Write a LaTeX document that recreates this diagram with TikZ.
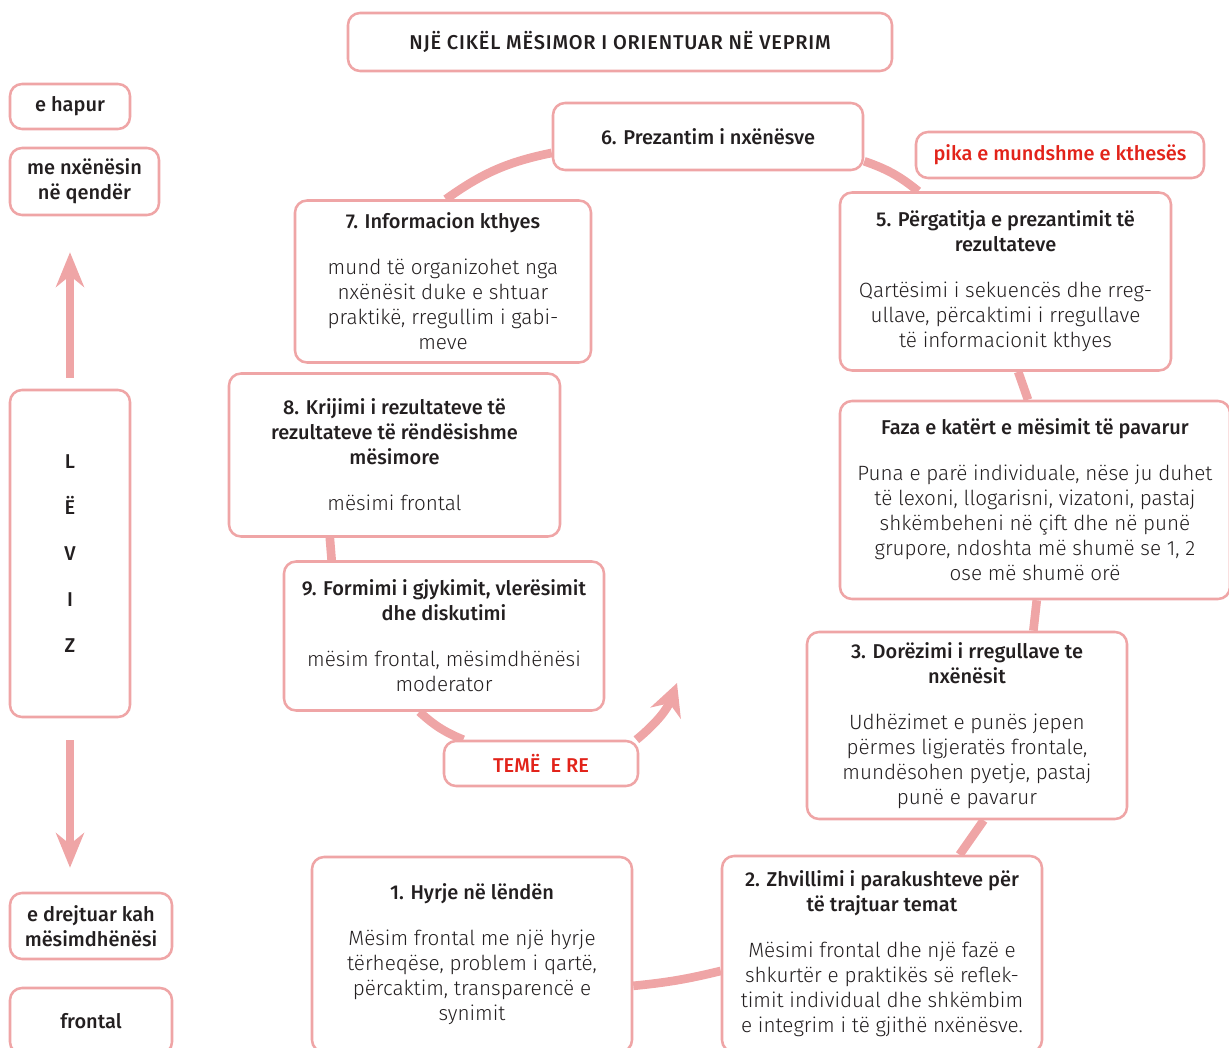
\documentclass[tikz,border=0pt]{standalone}
\usepackage{fontspec}
\setmainfont{Fira Sans}[UprightFont=* Light, BoldFont=* Medium]
\usetikzlibrary{arrows.meta}
\usetikzlibrary{backgrounds}
\definecolor{rose}{HTML}{EFA5A6}
\definecolor{ink}{HTML}{231F20}
\definecolor{signal}{HTML}{E2231A}
\newcommand{\gap}{\\[15.75pt]}
\newcommand{\head}[1]{{\fontsize{15}{18.75}\selectfont\bfseries #1}}

\begin{document}
\begin{tikzpicture}[x=0.75pt, y=-0.75pt,
  box/.style={draw=rose, line width=1.9pt, rounded corners=9pt, fill=white, align=center,
    inner sep=0pt, text=ink, font=\fontsize{15.5}{18.75}\selectfont},
  hot/.style={box, text=signal},
  ring/.style={draw=rose, line width=6.5pt},
  lead/.style={draw=rose, line width=6pt, -{Stealth[length=26pt, width=21pt]}}]
\useasboundingbox (0,0) rectangle (1229,1048);
% title
\node[box, minimum width=408pt, minimum height=43.5pt] (title) at (620,42) {\head{\addfontfeatures{LetterSpace=4}NJË CIKËL MËSIMOR I ORIENTUAR NË VEPRIM}};
% left column
\node[box, minimum width=90pt, minimum height=33.75pt] (open) at (70,106.5) {\head{e hapur}};
\node[box, minimum width=111.75pt, minimum height=50.25pt] (centre) at (84.5,181.5) {\head{me nxënësin}\\\head{në qendër}};
\node[box, minimum width=90pt, minimum height=245.25pt] (leviz) at (70,553.5) {\head{L}\gap\head{Ë}\gap\head{V}\gap\head{I}\gap\head{Z}};
\node[box, minimum width=121.5pt, minimum height=49.5pt] (teacher) at (91,926) {\head{e drejtuar kah}\\\head{mësimdhënësi}};
\node[box, minimum width=121.5pt, minimum height=49.5pt] (frontal) at (91,1021) {\head{frontal}};
\draw[lead] ([yshift=8.25pt]leviz.north) -- ([yshift=-27pt]leviz.north |- centre.south);
\draw[lead] ([yshift=-16.5pt]leviz.south) -- ([yshift=18pt]leviz.south |- teacher.north);
% the cycle
\node[box, minimum width=232.5pt, minimum height=50.25pt] (b6) at (708,136.5) {\head{6. Prezantim i nxënësve}};
\node[hot, minimum width=216pt, minimum height=34.5pt] (turn) at (1060,155) {\head{pika e mundshme e kthesës}};
\node[box, minimum width=248.25pt, minimum height=133.5pt] (b5) at (1005.5,281.5) {\head{5. Përgatitja e prezantimit të}\\\head{rezultateve}\gap
  Qartësimi i sekuencës dhe rreg-\\ullave, përcaktimi i rregullave\\të informacionit kthyes};
\node[box, minimum width=292.5pt, minimum height=148.5pt] (b4) at (1035,500) {\head{Faza e katërt e mësimit të pavarur}\gap
  Puna e parë individuale, nëse ju duhet\\të lexoni, llogarisni, vizatoni, pastaj\\shkëmbeheni në çift dhe në punë\\grupore, ndoshta më shumë se 1, 2\\ose më shumë orë};
\node[box, minimum width=240pt, minimum height=140.25pt] (b3) at (967,725.5) {\head{3. Dorëzimi i rregullave te}\\\head{nxënësit}\gap
  Udhëzimet e punës jepen\\përmes ligjeratës frontale,\\mundësohen pyetje, pastaj\\punë e pavarur};
\node[box, minimum width=240pt, minimum height=147pt] (b2) at (882,954) {\head{2. Zhvillimi i parakushteve për}\\\head{të trajtuar temat}\gap
  Mësimi frontal dhe një fazë e\\shkurtër e praktikës së reflek-\\timit individual dhe shkëmbim\\e integrim i të gjithë nxënësve.};
\node[box, minimum width=240pt, minimum height=146.25pt] (b1) at (472,954.5) {\head{1. Hyrje në lëndën}\gap
  Mësim frontal me një hyrje\\tërheqëse, problem i qartë,\\përcaktim, transparencë e\\synimit};
\node[hot, minimum width=145.5pt, minimum height=33.75pt] (teme) at (541,763.5) {\head{TEMË\ \ E RE}};
\node[box, minimum width=240pt, minimum height=111.75pt] (b9) at (444,636) {\head{9. Formimi i gjykimit, vlerësimit}\\\head{dhe diskutimi}\gap
  mësim frontal, mësimdhënësi\\moderator};
\node[box, minimum width=248.25pt, minimum height=122.25pt] (b8) at (394.5,455) {\head{8. Krijimi i rezultateve të}\\\head{rezultateve të rëndësishme}\\\head{mësimore}\gap
  mësimi frontal};
\node[box, minimum width=222pt, minimum height=121.5pt] (b7) at (443,281.5) {\head{7. Informacion kthyes}\gap
  mund të organizohet nga\\nxënësit duke e shtuar\\praktikë, rregullim i gabi-\\meve};
\coordinate (newtip) at (677,683);
\begin{scope}[on background layer]
\draw[ring] (b6.186) to[bend right=12] (b7.88);
\draw[ring] (b6.351) to[bend left=10] (b5.134);
\draw[ring] (b5.278) to (b4.94);
\draw[ring] (b4.271) to (b3.55);
\draw[ring] (b3.280) to (b2.52);
\draw[ring] (b2.186) to[bend left=4] (b1.349);
\draw[ring] (b8.232) to (b9.146);
\draw[ring] (b9.252) to[bend right=10] (teme.163);
\end{scope}
\draw[lead, line width=6.5pt, -{Stealth[length=24pt, width=24pt]}] (teme.14) to[bend right=15] (newtip);
\end{tikzpicture}
\end{document}
